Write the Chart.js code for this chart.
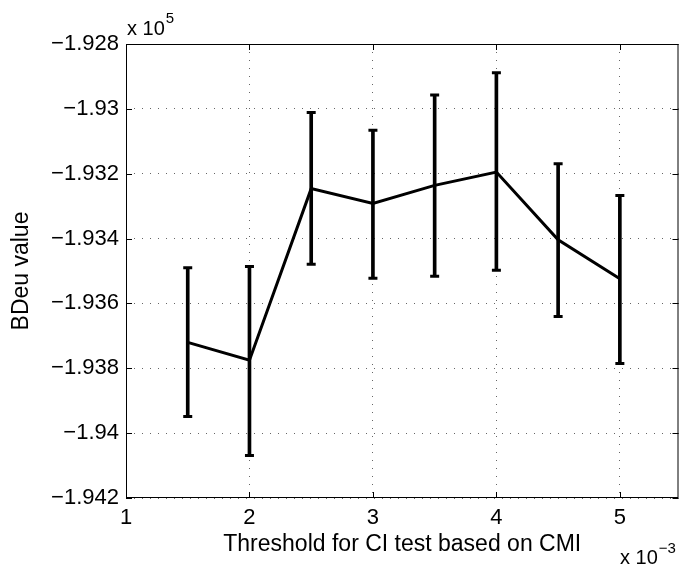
<!DOCTYPE html>
<html>
<head>
<meta charset="utf-8">
<script src="https://cdn.jsdelivr.net/npm/chart.js@4.4.0/dist/chart.umd.min.js"></script>
<style>
  html, body { margin: 0; padding: 0; background: #fff; }
</style>
</head>
<body>
<canvas id="myChart" width="686" height="567"></canvas>
<script>
// ------------------   DATA   ----------------
const thresholds = [0.0015, 0.002, 0.0025, 0.003, 0.0035, 0.004, 0.0045, 0.005];
const bdeuMean = [-193720, -193775, -193246, -193292, -193236, -193195, -193404, -193524];
const bdeuUpper = [-193490, -193486, -193011, -193066, -192957, -192889, -193169, -193267];
const bdeuLower = [-193949, -194069, -193479, -193522, -193516, -193498, -193640, -193785];

const xTicks = [0.001, 0.002, 0.003, 0.004, 0.005];
const yTicks = [-194200, -194000, -193800, -193600, -193400, -193200, -193000, -192800];

const FONT = '"Liberation Sans", Arial, Helvetica, sans-serif';

// ------------   FUNCTIONS   ----------------------

// box around the axes, inward ticks and the "x 10^n" multipliers
const matlabFrame = {
  id: 'matlabFrame',
  afterDraw(chart) {
    const { ctx, chartArea: a, scales } = chart;
    ctx.save();
    ctx.strokeStyle = '#000';
    ctx.lineWidth = 1;
    ctx.strokeRect(a.left + 0.5, a.top + 0.5, a.width - 1, a.height - 1);

    ctx.beginPath();
    for (const t of xTicks) {
      const px = Math.round(scales.x.getPixelForValue(t)) + 0.5;
      ctx.moveTo(px, a.bottom);
      ctx.lineTo(px, a.bottom - 6);
      ctx.moveTo(px, a.top);
      ctx.lineTo(px, a.top + 6);
    }
    for (const t of yTicks) {
      const py = Math.round(scales.y.getPixelForValue(t)) + 0.5;
      ctx.moveTo(a.left, py);
      ctx.lineTo(a.left + 6, py);
      ctx.moveTo(a.right, py);
      ctx.lineTo(a.right - 6, py);
    }
    ctx.stroke();

    ctx.fillStyle = '#000';
    ctx.textBaseline = 'alphabetic';
    ctx.textAlign = 'left';
    ctx.font = '20px ' + FONT;
    ctx.fillText('x 10', 127, 35);
    let w = ctx.measureText('x 10').width;
    ctx.font = '15px ' + FONT;
    ctx.fillText('5', 127 + w + 1, 23);

    ctx.font = '20px ' + FONT;
    ctx.fillText('x 10', 620, 564);
    w = ctx.measureText('x 10').width;
    ctx.font = '15px ' + FONT;
    ctx.fillText('\u22123', 620 + w + 1, 553);
    ctx.restore();
  },
};

function renderChart() {
  const ctx = document.getElementById('myChart').getContext('2d');
  const gridDots = { color: '#666', lineWidth: 1, drawTicks: false, offset: false };

  new Chart(ctx, {
    type: 'line',
    data: {
      datasets: [
        {
          type: 'line',
          data: thresholds.map((t, i) => ({ x: t, y: bdeuMean[i] })),
          borderColor: '#000',
          borderWidth: 3,
          pointRadius: 0,
          tension: 0,
        },
        {
          type: 'bar',
          data: thresholds.map((t, i) => ({ x: t, y: [bdeuLower[i], bdeuUpper[i]] })),
          backgroundColor: '#000',
          borderWidth: 0,
          barThickness: 3,
        },
        {
          type: 'scatter',
          data: thresholds.map((t, i) => ({ x: t, y: bdeuUpper[i] })),
          pointStyle: 'line',
          pointRadius: 4.5,
          borderColor: '#000',
          borderWidth: 3,
        },
        {
          type: 'scatter',
          data: thresholds.map((t, i) => ({ x: t, y: bdeuLower[i] })),
          pointStyle: 'line',
          pointRadius: 4.5,
          borderColor: '#000',
          borderWidth: 3,
        },
      ],
    },
    options: {
      responsive: false,
      animation: false,
      devicePixelRatio: 1,
      layout: { padding: { top: 44, right: 4, left: 0, bottom: 0 } },
      plugins: { legend: { display: false }, tooltip: { enabled: false } },
      scales: {
        x: {
          type: 'linear',
          min: 0.001,
          max: 0.005475,
          offset: false,
          afterBuildTicks: (s) => { s.ticks = xTicks.map((v) => ({ value: v })); },
          afterFit: (s) => { s.height = 69; },
          grid: gridDots,
          border: { display: false, dash: [1, 7] },
          ticks: {
            color: '#000',
            padding: 7,
            maxRotation: 0,
            font: { family: FONT, size: 22 },
            callback: (v) => String(Math.round(v * 1000)),
          },
          title: {
            display: true,
            text: 'Threshold for CI test based on CMI',
            color: '#000',
            font: { family: FONT, size: 23 },
            padding: { top: 0, bottom: 9 },
          },
        },
        y: {
          type: 'linear',
          min: -194200,
          max: -192800,
          afterBuildTicks: (s) => { s.ticks = yTicks.map((v) => ({ value: v })); },
          afterFit: (s) => { s.width = 126; },
          grid: gridDots,
          border: { display: false, dash: [1, 7] },
          ticks: {
            color: '#000',
            padding: 7,
            font: { family: FONT, size: 22 },
            callback: (v) => '\u2212' + parseFloat((Math.abs(v) / 1e5).toFixed(3)),
          },
          title: {
            display: true,
            text: 'BDeu value',
            color: '#000',
            font: { family: FONT, size: 23 },
            padding: { top: 8, bottom: 0 },
          },
        },
      },
    },
    plugins: [matlabFrame],
  });
}

// ------------ function calls ---------------------
renderChart();
</script>
</body>
</html>
